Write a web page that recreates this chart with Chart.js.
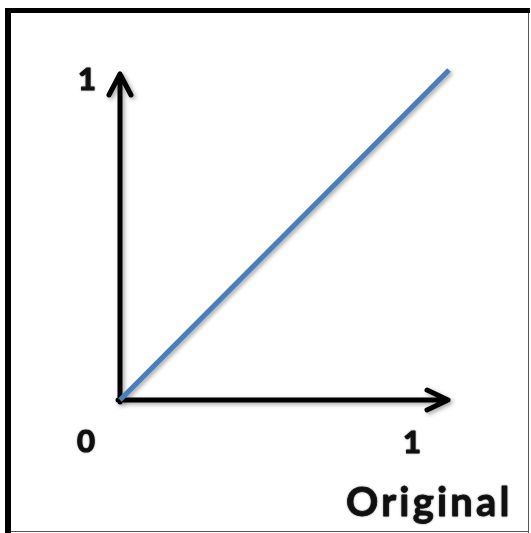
<!DOCTYPE html>
<html>
<head>
<meta charset="utf-8">
<script src="https://cdn.jsdelivr.net/npm/chart.js@4"></script>
<style>
  html, body { margin: 0; padding: 0; background: #fff; }
  canvas { display: block; }
</style>
</head>
<body>
<canvas id="chart" width="531" height="533"></canvas>
<script>
// Identity line: original value vs. itself
const xValues = [0, 1];
const yValues = [0, 1];
const originLabel = '0';
const xTickLabel = '1';
const yTickLabel = '1';
const xTitle = 'Original';

const lineColor = '#4a7ebb';
const inkColor = '#111';

function withShadow(ctx) {
  ctx.shadowColor = 'rgba(0,0,0,0.35)';
  ctx.shadowBlur = 4;
  ctx.shadowOffsetX = 2;
  ctx.shadowOffsetY = 2;
}

// draws text a little heavier, like the blurry bold of the source
function heavyText(ctx, text, x, y) {
  ctx.fillText(text, x, y);
  ctx.strokeText(text, x, y);
}

// frame, arrow axes and labels
const decor = {
  id: 'decor',
  beforeDraw(chart) {
    const ctx = chart.ctx;
    ctx.save();
    ctx.fillStyle = '#fff';
    ctx.fillRect(0, 0, chart.width, chart.height);
    // thick left/top, thin right/bottom
    ctx.fillStyle = '#000';
    ctx.fillRect(5, 8, 6, 525);
    ctx.fillRect(5, 8, 525, 5);
    ctx.fillStyle = '#555';
    ctx.fillRect(528, 13, 1, 520);
    ctx.fillRect(11, 531, 518, 1);
    ctx.restore();
  },
  beforeDatasetsDraw(chart) {
    const ctx = chart.ctx;
    const { x, y } = chart.scales;
    const x0 = x.getPixelForValue(0), x1 = x.getPixelForValue(1);
    const y0 = y.getPixelForValue(0), y1 = y.getPixelForValue(1);
    ctx.save();
    withShadow(ctx);
    ctx.strokeStyle = '#000';
    ctx.lineWidth = 5;
    ctx.lineCap = 'round';
    ctx.lineJoin = 'round';
    const yTip = y1 + 4, xTip = x1 - 1;
    ctx.beginPath();
    ctx.moveTo(x0, y0 + 2);
    ctx.lineTo(x0, yTip);
    ctx.moveTo(x0 - 11, yTip + 21);
    ctx.lineTo(x0, yTip);
    ctx.lineTo(x0 + 11, yTip + 21);
    ctx.moveTo(x0 - 2, y0);
    ctx.lineTo(xTip, y0);
    ctx.moveTo(xTip - 21, y0 - 10);
    ctx.lineTo(xTip, y0);
    ctx.lineTo(xTip - 21, y0 + 10);
    ctx.stroke();
    ctx.restore();
  },
  beforeDatasetDraw(chart) {
    chart.ctx.save();
    withShadow(chart.ctx);
  },
  afterDatasetDraw(chart) {
    chart.ctx.restore();
  },
  afterDraw(chart) {
    const ctx = chart.ctx;
    const { x, y } = chart.scales;
    const x0 = x.getPixelForValue(0), x1 = x.getPixelForValue(1);
    const y0 = y.getPixelForValue(0), y1 = y.getPixelForValue(1);
    ctx.save();
    ctx.fillStyle = inkColor;
    ctx.strokeStyle = inkColor;
    ctx.lineWidth = 1.2;
    ctx.lineJoin = 'round';
    ctx.textAlign = 'center';
    ctx.textBaseline = 'middle';
    ctx.shadowColor = 'rgba(0,0,0,0.4)';
    ctx.shadowBlur = 2;
    ctx.font = 'bold 31px Lato';
    heavyText(ctx, yTickLabel, x0 - 33, y1 + 10);
    heavyText(ctx, originLabel, x0 - 34, y0 + 42);
    heavyText(ctx, xTickLabel, x1 - 37, y0 + 43);
    ctx.font = 'bold 40px Lato';
    ctx.letterSpacing = '3.2px';
    ctx.lineWidth = 0.8;
    ctx.textAlign = 'left';
    ctx.textBaseline = 'alphabetic';
    heavyText(ctx, xTitle, 346, 516);
    ctx.restore();
  }
};

new Chart(document.getElementById('chart'), {
  type: 'line',
  data: {
    datasets: [{
      data: xValues.map((v, i) => ({ x: v, y: yValues[i] })),
      borderColor: lineColor,
      borderWidth: 5,
      pointRadius: 0,
      tension: 0,
      clip: false
    }]
  },
  options: {
    responsive: false,
    animation: false,
    layout: { padding: { left: 120, right: 82, top: 70, bottom: 133 } },
    scales: {
      x: { type: 'linear', min: 0, max: 1, display: false },
      y: { type: 'linear', min: 0, max: 1, display: false }
    },
    plugins: { legend: { display: false }, tooltip: { enabled: false } }
  },
  plugins: [decor]
});
</script>
</body>
</html>
